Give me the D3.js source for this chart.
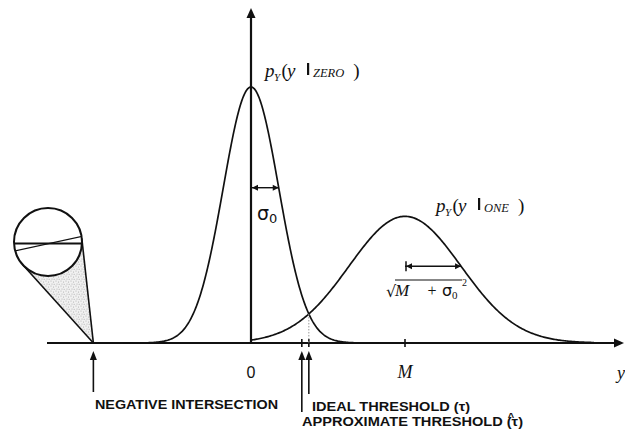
<!DOCTYPE html>
<html>
<head>
<meta charset="utf-8">
<script src="https://cdn.jsdelivr.net/npm/d3@7"></script>
<style>
  html, body { margin: 0; padding: 0; background: #fff; }
  svg { display: block; }
</style>
</head>
<body>
<svg id="chart" width="625" height="430"></svg>
<script>
// Received-signal densities for the two transmitted symbols
const classes = ["ZERO", "ONE"];
const M = 10;                       // mean of the ONE symbol
const sigma0 = 1.8;                 // noise standard deviation
const means = [0, M];
const sigmas = [sigma0, Math.sqrt(M + sigma0 * sigma0)];
const approxThreshold = 3.3;        // simplified threshold estimate
const tickValues = [0, M];
const tickLabels = ["0", "M"];

const ink = "#111";
const svg = d3.select("#chart");

const x = d3.scaleLinear().domain([0, M]).range([251, 405]);
const y = d3.scaleLinear().domain([0, 0.29]).range([343, 8]);
const axisLeftPx = 47, axisRightPx = 624;

const pdf = (v, mu, s) => Math.exp(-0.5 * ((v - mu) / s) ** 2) / (s * Math.sqrt(2 * Math.PI));

// Both crossing points of the two densities (roots of the quadratic)
const s0 = sigmas[0], s1 = sigmas[1];
const qa = 1 / (2 * s0 * s0) - 1 / (2 * s1 * s1);
const qb = M / (s1 * s1);
const qc = -M * M / (2 * s1 * s1) - Math.log(s1 / s0);
const disc = Math.sqrt(qb * qb - 4 * qa * qc);
const idealThreshold = (-qb + disc) / (2 * qa);
const negIntersection = (-qb - disc) / (2 * qa);

// ---- stippled magnifier cone and inset circle ----
const defs = svg.append("defs");
const pat = defs.append("pattern").attr("id", "stipple").attr("patternUnits", "userSpaceOnUse")
  .attr("width", 5).attr("height", 5);
pat.append("rect").attr("width", 5).attr("height", 5).attr("fill", "#f1f1f1");
[[1, 1], [3.5, 2], [2, 4], [4.2, 4.3]].forEach(([cx, cy]) =>
  pat.append("circle").attr("cx", cx).attr("cy", cy).attr("r", 0.55).attr("fill", "#aaa"));

const lens = { cx: 48, cy: 242, r: 34 };
const P = [x(negIntersection), y(0)];
const dx = lens.cx - P[0], dy = lens.cy - P[1];
const d = Math.hypot(dx, dy);
const base = Math.atan2(dy, dx);
const off = Math.asin(lens.r / d);
const tl = Math.sqrt(d * d - lens.r * lens.r);
const T1 = [P[0] + tl * Math.cos(base - off), P[1] + tl * Math.sin(base - off)];
const T2 = [P[0] + tl * Math.cos(base + off), P[1] + tl * Math.sin(base + off)];

svg.append("path").attr("d", `M${P}L${T1}L${lens.cx},${lens.cy}L${T2}Z`).attr("fill", "url(#stipple)");
[T1, T2].forEach(T => svg.append("line").attr("x1", P[0]).attr("y1", P[1]).attr("x2", T[0]).attr("y2", T[1])
  .attr("stroke", ink).attr("stroke-width", 1.6));
defs.append("clipPath").attr("id", "lensClip").append("circle")
  .attr("cx", lens.cx).attr("cy", lens.cy).attr("r", lens.r);
svg.append("circle").attr("cx", lens.cx).attr("cy", lens.cy).attr("r", lens.r)
  .attr("fill", "#fff").attr("stroke", ink).attr("stroke-width", 2);
const inner = svg.append("g").attr("clip-path", "url(#lensClip)");
inner.append("line").attr("x1", 10).attr("y1", 243.5).attr("x2", 86).attr("y2", 243.5)
  .attr("stroke", ink).attr("stroke-width", 1.8);
inner.append("line").attr("x1", 10).attr("y1", 252).attr("x2", 86).attr("y2", 235.5)
  .attr("stroke", ink).attr("stroke-width", 1.4);

// ---- axes ----
const arrowHead = (tip, dir, len, half) => {
  const [tx, ty] = tip;
  const [ux, uy] = dir, [px, py] = [-uy, ux];
  return `M${tx},${ty}L${tx - ux * len + px * half},${ty - uy * len + py * half}` +
         `L${tx - ux * len - px * half},${ty - uy * len - py * half}Z`;
};
svg.append("line").attr("x1", axisLeftPx).attr("y1", y(0)).attr("x2", axisRightPx - 6).attr("y2", y(0))
  .attr("stroke", ink).attr("stroke-width", 2.2);
svg.append("path").attr("d", arrowHead([axisRightPx, y(0)], [1, 0], 10, 4.5)).attr("fill", ink);
svg.append("line").attr("x1", x(0)).attr("y1", y(0)).attr("x2", x(0)).attr("y2", y(0.29) + 6)
  .attr("stroke", ink).attr("stroke-width", 2.2);
svg.append("path").attr("d", arrowHead([x(0), y(0.29)], [0, -1], 10, 4.5)).attr("fill", ink);

// small ticks on the baseline
[M, approxThreshold, idealThreshold].forEach(v =>
  svg.append("line").attr("x1", x(v)).attr("x2", x(v)).attr("y1", y(0) - 4).attr("y2", y(0) + 4)
    .attr("stroke", ink).attr("stroke-width", 1.6));

svg.selectAll("text.tick").data(tickValues).join("text").attr("class", "tick")
  .attr("x", v => x(v)).attr("y", 378).attr("text-anchor", "middle")
  .attr("font-family", (v, i) => i === 0 ? "Liberation Sans" : "Liberation Serif")
  .attr("font-style", (v, i) => i === 0 ? "normal" : "italic")
  .attr("font-size", (v, i) => i === 0 ? 16 : 18)
  .attr("fill", ink)
  .text((v, i) => tickLabels[i]);
svg.append("text").attr("x", 617).attr("y", 379).attr("font-family", "Liberation Serif")
  .attr("font-style", "italic").attr("font-size", 18).attr("fill", ink).text("y");

// ---- density curves ----
const line = d3.line().x(d => x(d[0])).y(d => y(d[1]));
classes.forEach((c, i) => {
  const lo = i === 0 ? means[i] - 4.6 * sigmas[i] : 0;
  const hi = Math.min(means[i] + 4.6 * sigmas[i], x.invert(axisRightPx - 30));
  const pts = d3.range(0, 301).map(k => {
    const v = lo + (hi - lo) * k / 300;
    return [v, pdf(v, means[i], sigmas[i])];
  });
  svg.append("path").datum(pts).attr("d", line).attr("fill", "none")
    .attr("stroke", ink).attr("stroke-width", 1.7);
});

// dotted drop line from the crossing point
svg.append("line").attr("x1", x(idealThreshold)).attr("x2", x(idealThreshold))
  .attr("y1", y(pdf(idealThreshold, 0, s0))).attr("y2", y(0))
  .attr("stroke", "#999").attr("stroke-width", 1).attr("stroke-dasharray", "1.5,1.5");

// ---- spread markers ----
const spread = (i, withBar) => {
  const yy = y(pdf(means[i] + sigmas[i], means[i], sigmas[i]));
  const xa = x(means[i]), xb = x(means[i] + sigmas[i]);
  svg.append("line").attr("x1", xa).attr("x2", xb).attr("y1", yy).attr("y2", yy)
    .attr("stroke", ink).attr("stroke-width", 1.4);
  svg.append("path").attr("d", arrowHead([xa + 1, yy], [-1, 0], 6, 3)).attr("fill", ink);
  svg.append("path").attr("d", arrowHead([xb, yy], [1, 0], 6, 3)).attr("fill", ink);
  if (withBar) svg.append("line").attr("x1", xa + 1).attr("x2", xa + 1).attr("y1", yy - 5).attr("y2", yy + 5)
    .attr("stroke", ink).attr("stroke-width", 1.5);
};
spread(0, false);
spread(1, true);

// ---- math labels: p_Y(y | class) ----
const mathLabel = (ox, py, name) => {
  const g = svg.append("g").attr("fill", ink).attr("font-family", "Liberation Serif");
  g.append("text").attr("x", ox).attr("y", py).attr("font-size", 19).attr("font-style", "italic").text("p");
  g.append("text").attr("x", ox + 9).attr("y", py + 4).attr("font-size", 11).attr("font-style", "italic").text("Y");
  g.append("text").attr("x", ox + 16.5).attr("y", py).attr("font-size", 19).text("(");
  g.append("text").attr("x", ox + 22).attr("y", py).attr("font-size", 19).attr("font-style", "italic").text("y");
  g.append("rect").attr("x", ox + 42).attr("y", py - 14).attr("width", 2.2).attr("height", 12);
  const nm = g.append("text").attr("x", ox + 48).attr("y", py).attr("font-size", 12.5)
    .attr("font-style", "italic").text(name);
  const w = nm.node().getComputedTextLength();
  g.append("text").attr("x", ox + 48 + w + 9).attr("y", py).attr("font-size", 19).text(")");
};
mathLabel(265, 77, classes[0]);
mathLabel(436, 212, classes[1]);

const sig = svg.append("text").attr("x", 257).attr("y", 220).attr("font-family", "DejaVu Sans")
  .attr("font-size", 19).attr("fill", ink);
sig.append("tspan").text("σ");
sig.append("tspan").attr("font-size", 13).attr("dy", 3).text("0");

// square-root width label
const sq = svg.append("g").attr("fill", ink).attr("font-family", "Liberation Serif");
sq.append("text").attr("x", 386).attr("y", 297).attr("font-family", "DejaVu Sans")
  .attr("font-size", 16).text("√");
sq.append("line").attr("x1", 395).attr("x2", 462).attr("y1", 280).attr("y2", 280)
  .attr("stroke", ink).attr("stroke-width", 1.1);
sq.append("text").attr("x", 395).attr("y", 296).attr("font-size", 17).attr("font-style", "italic").text("M");
sq.append("text").attr("x", 432).attr("y", 296).attr("font-size", 16).attr("text-anchor", "middle").text("+");
sq.append("text").attr("x", 442).attr("y", 296).attr("font-family", "DejaVu Sans").attr("font-size", 16).text("σ");
sq.append("text").attr("x", 452).attr("y", 299).attr("font-size", 11).text("0");
sq.append("text").attr("x", 462).attr("y", 286).attr("font-size", 10).text("2");

// ---- pointer arrows and captions ----
const pointer = (v, bottom) => {
  svg.append("line").attr("x1", x(v)).attr("x2", x(v)).attr("y1", 358).attr("y2", bottom)
    .attr("stroke", ink).attr("stroke-width", 1.6);
  svg.append("path").attr("d", arrowHead([x(v), 351], [0, -1], 9, 3.5)).attr("fill", ink);
};
pointer(negIntersection, 392);
pointer(idealThreshold, 394);
pointer(approxThreshold, 412);

const caption = (px, py, str, w) => svg.append("text").attr("x", px).attr("y", py)
  .attr("font-family", "Liberation Sans").attr("font-weight", "bold").attr("font-size", 13.5)
  .attr("fill", ink).attr("textLength", w).attr("lengthAdjust", "spacingAndGlyphs").text(str);
caption(95, 409, "NEGATIVE INTERSECTION", 183);
caption(312, 411, "IDEAL THRESHOLD (τ)", 158);
caption(302, 426, "APPROXIMATE THRESHOLD (τ)", 221);
svg.append("text").attr("x", 511).attr("y", 421).attr("text-anchor", "middle")
  .attr("font-family", "Liberation Sans").attr("font-weight", "bold").attr("font-size", 11)
  .attr("fill", ink).text("^");
</script>
</body>
</html>
